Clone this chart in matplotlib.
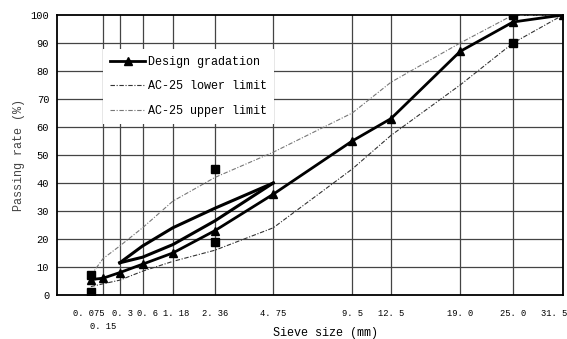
import numpy as np
import matplotlib
matplotlib.use("Agg")
import matplotlib.pyplot as plt
import matplotlib.transforms as mtransforms

# sieve sizes (mm) and tick labels
sieves = [0.075, 0.15, 0.3, 0.6, 1.18, 2.36, 4.75, 9.5, 12.5, 19.0, 25.0, 31.5]
tick_labels = ["0. 075", "0. 15", "0. 3", "0. 6", "1. 18", "2. 36", "4. 75",
               "9. 5", "12. 5", "19. 0", "25. 0", "31. 5"]

# passing rates (%)
design = [5.5, 6, 8, 11, 15, 23, 36, 55, 63, 87, 97.5, 100]
lower = [3, 4, 5.3, 8.5, 12, 16, 24, 45, 57, 75, 90, 100]
upper = [7, 13, 17.5, 24, 33.5, 42, 51, 65, 76, 90, 100, 100]

# thick lens between 0.3 and 4.75
lens_sieves = [0.3, 0.6, 1.18, 2.36, 4.75]
lens_top = [11.5, 17.5, 24, 31, 40]
lens_bottom = [11.5, 13.5, 18, 26.5, 40]

# control points (squares)
ctrl_sieves = [0.075, 0.075, 2.36, 2.36, 25.0, 25.0]
ctrl_values = [7, 1, 45, 19, 100, 90]

font = "Liberation Mono"

fig = plt.figure(figsize=(5.67, 3.39), dpi=100)
ax = fig.add_axes([0.1014, 0.1298, 0.8916, 0.826])

pw = 0.45
ax.set_xscale("function", functions=(lambda x: np.power(np.clip(x, 0, None), pw),
                                     lambda y: np.power(np.clip(y, 0, None), 1 / pw)))
ax.set_xlim(0, 31.5)
ax.set_ylim(0, 100)

# grid
for s in sieves[1:-1]:
    ax.axvline(s, color="#444444", lw=0.9, zorder=1)
for v in range(10, 100, 10):
    ax.axhline(v, color="#444444", lw=0.9, zorder=1)

ax.plot(sieves, design, color="black", lw=2, marker="^", ms=6,
        label="Design gradation", zorder=4)
ax.plot(sieves, lower, color="#333333", lw=0.8, ls=(0, (4, 1.5, 1, 1.5)),
        label="AC-25 lower limit", zorder=3)
ax.plot(sieves, upper, color="#777777", lw=0.8, ls=(0, (4, 1.5, 1, 1.5)),
        label="AC-25 upper limit", zorder=3)
ax.plot(lens_sieves, lens_top, color="black", lw=2.2, zorder=4)
ax.plot(lens_sieves, lens_bottom, color="black", lw=2.2, zorder=4)
ax.plot(ctrl_sieves, ctrl_values, ls="none", marker="s", ms=6, color="black", zorder=5)

ax.set_xticks(sieves)
ax.set_xticklabels(tick_labels, fontsize=6.3, family=font)
ax.set_yticks(range(0, 101, 10))
ax.set_yticklabels([str(v) for v in range(0, 101, 10)], fontsize=7.5, family=font)
ax.tick_params(axis="x", length=0, pad=10)
ax.tick_params(axis="y", length=0, pad=6)

# nudge crowded labels apart, drop 0.15 to a second row, keep the last label inside
xl = ax.get_xticklabels()
shifts = {0: (-2, 0), 1: (0, -13), 2: (3, 0), 3: (5, 0), 4: (3, 0), -1: (-9, 0)}
for i, (dx, dy) in shifts.items():
    xl[i].set_transform(xl[i].get_transform()
                        + mtransforms.ScaledTranslation(dx / 100, dy / 100, fig.dpi_scale_trans))

for sp in ax.spines.values():
    sp.set_linewidth(1.3)
    sp.set_color("black")

ax.set_xlabel("Sieve size (mm)", fontsize=8.5, family=font, labelpad=1)
ax.xaxis.set_label_coords(0.53, -0.115)
ax.set_ylabel("Passing rate (%)", fontsize=8.5, family=font, color="#444444", labelpad=4)

leg = ax.legend(loc="upper left", bbox_to_anchor=(0.078, 0.90), prop={"family": font, "size": 8.5},
                frameon=True, facecolor="white", edgecolor="none", framealpha=1,
                handlelength=3, labelspacing=1.05, handletextpad=0.2, borderpad=0.6,
                fancybox=False)
leg.set_zorder(6)

fig.savefig("out.png", dpi=100)
